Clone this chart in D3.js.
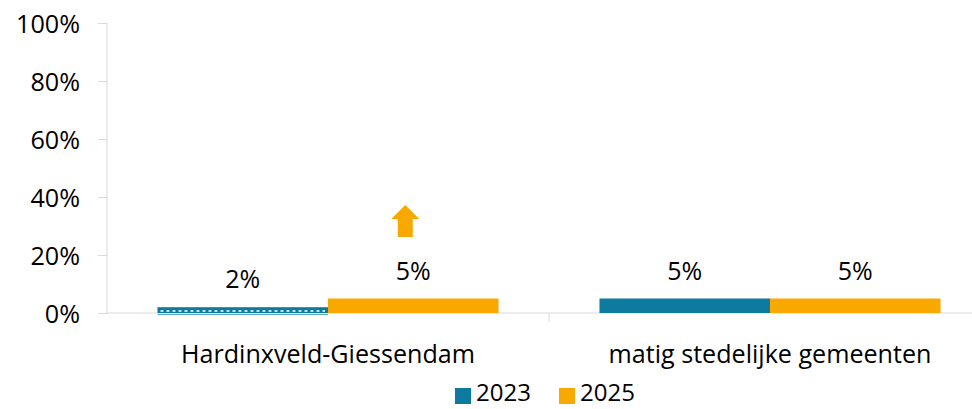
<!DOCTYPE html>
<html><head><meta charset="utf-8">
<script src="https://cdn.jsdelivr.net/npm/d3@7"></script>
<style>body{margin:0;background:#fff}svg text{font-family:"Open Sans",sans-serif}</style>
</head><body>
<svg id="c" width="972" height="409"></svg>
<script>
const categories = ["Hardinxveld-Giessendam", "matig stedelijke gemeenten"];
const seriesNames = ["2023", "2025"];
const values2023 = [0.02, 0.05];
const values2025 = [0.05, 0.05];
const valueLabels2023 = ["2%", "5%"];
const valueLabels2025 = ["5%", "5%"];
const yTicks = [0, 0.2, 0.4, 0.6, 0.8, 1.0];
const arrows = [{cat: 0, series: 1, dir: "up"}];
const colors = ["#0d7a9f", "#f9a800"];

const svg = d3.select("#c");
function fitSize(txt, target) {
  const t = svg.append("text").attr("font-size", 100).text(txt);
  const w = t.node().getComputedTextLength();
  t.remove();
  return 100 * target / w;
}
const fsTick = fitSize("100%", 64);
const fsCat = fitSize("Hardinxveld-Giessendam", 294);
const fsVal = fitSize("5%", 35);
const fsLeg = fitSize("2023", 55);

const x0 = d3.scaleBand().domain(categories).range([107, 991]).paddingInner(0).paddingOuter(0);
const x1 = d3.scaleBand().domain(seriesNames).range([0, x0.bandwidth()]).paddingOuter(0.296).paddingInner(0);
const y = d3.scaleLinear().domain([0, 1]).range([313, 23]);

// axes
const ya = svg.append("g").attr("transform","translate(107,0)")
  .call(d3.axisLeft(y).tickValues(yTicks).tickFormat(d3.format(".0%")).tickSize(9).tickPadding(27-9));
ya.selectAll("line,path").attr("stroke","#d9d9d9");
ya.select("path").attr("d","M0,23V313");
ya.attr("font-family", null);
ya.selectAll("text").attr("font-size",fsTick).attr("fill","#000").attr("dy","0.36em");

const xa = svg.append("g").attr("transform","translate(0,313)");
xa.append("line").attr("x1",107).attr("x2",991).attr("stroke","#d9d9d9");
categories.forEach((c,i)=>{
  const xe = x0(c)+x0.bandwidth();
  xa.append("line").attr("x1",xe).attr("x2",xe).attr("y1",0).attr("y2",9).attr("stroke","#d9d9d9");
  xa.append("text").attr("x",x0(c)+x0.bandwidth()/2).attr("y",50).attr("text-anchor","middle")
    .attr("font-size",fsCat).attr("fill","#000").text(c);
});

const data = categories.map((c,i)=>[
  {cat:c, s:"2023", v:values2023[i], lab:valueLabels2023[i], col:colors[0], i},
  {cat:c, s:"2025", v:values2025[i], lab:valueLabels2025[i], col:colors[1], i}
]).flat();

const g = svg.append("g");
data.forEach(d=>{
  const bx = x0(d.cat)+x1(d.s), bw = x1.bandwidth();
  g.append("rect").attr("x",bx).attr("y",y(d.v)).attr("width",bw).attr("height",y(0)-y(d.v)).attr("fill",d.col);
  if (d.s==="2023" && d.i===0) {
    g.append("line").attr("x1",bx+3).attr("x2",bx+bw-3).attr("y1",(y(d.v)+y(0))/2+1).attr("y2",(y(d.v)+y(0))/2+1)
      .attr("stroke","#fff").attr("stroke-width",1.5).attr("stroke-dasharray","3,3");
    g.append("line").attr("x1",bx).attr("x2",bx+bw).attr("y1",y(0)+1.5).attr("y2",y(0)+1.5)
      .attr("stroke","#5aa9c8").attr("stroke-width",1);
  }
  g.append("text").attr("x",bx+bw/2).attr("y",y(d.v)-19).attr("text-anchor","middle")
    .attr("font-size",fsVal).attr("fill","#000").text(d.lab);
});

// arrows
arrows.forEach(a=>{
  const c = categories[a.cat], s = seriesNames[a.series];
  const cx = x0(c)+x1(s)+x1.bandwidth()/2 - 8;
  const top = 205, bot = 237;
  const path = d3.path();
  path.moveTo(cx, top); path.lineTo(cx+14, top+14); path.lineTo(cx+7.5, top+14); path.lineTo(cx+7.5, bot);
  path.lineTo(cx-7.5, bot); path.lineTo(cx-7.5, top+14); path.lineTo(cx-14, top+14); path.closePath();
  svg.append("path").attr("d",path.toString()).attr("fill",colors[1]);
});

// legend
const lg = svg.append("g");
let lx = 455;
seriesNames.forEach((s,i)=>{
  lg.append("rect").attr("x",lx).attr("y",388).attr("width",16).attr("height",16).attr("fill",colors[i]);
  lg.append("text").attr("x",lx+21).attr("y",401).attr("font-size",fsLeg).attr("fill","#000").text(s);
  lx += 104;
});
</script>
</body></html>
